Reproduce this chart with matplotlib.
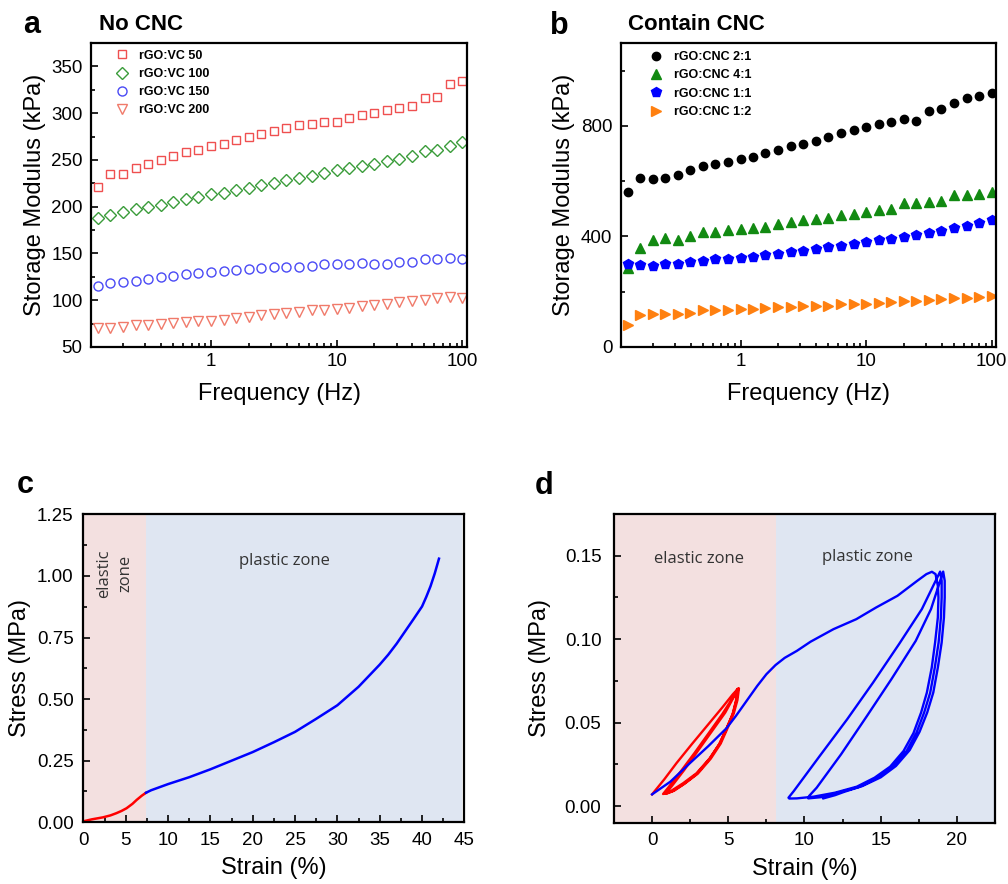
import matplotlib
matplotlib.use('Agg')
import matplotlib.pyplot as plt
from matplotlib.ticker import FixedLocator, MultipleLocator, LogLocator

plt.rcParams['font.family'] = ['Liberation Sans', 'DejaVu Sans']

# frequency sweep, 10 points per decade from 10^-0.9 to 100 Hz
freq = [0.126, 0.158, 0.2, 0.251, 0.316, 0.398, 0.501, 0.631, 0.794, 1.0,
        1.26, 1.58, 2.0, 2.51, 3.16, 3.98, 5.01, 6.31, 7.94, 10.0,
        12.6, 15.8, 20.0, 25.1, 31.6, 39.8, 50.1, 63.1, 79.4, 100.0]

# panel a: no CNC
vc50 = [221, 235, 235, 241, 246, 250, 254, 258, 261, 265, 267, 271, 275, 278, 281,
        284, 287, 288, 290, 291, 295, 298, 300, 303, 306, 308, 316, 317, 331, 334]
vc100 = [188, 191, 194, 197, 200, 202, 205, 208, 210, 213, 215, 218, 220, 223, 225,
         228, 231, 233, 236, 239, 241, 244, 246, 249, 251, 254, 260, 261, 265, 269]
vc150 = [115, 118, 119, 121, 123, 125, 126, 128, 129, 130, 131, 132, 133, 134, 135,
         136, 136, 137, 139, 139, 139, 140, 139, 139, 141, 141, 144, 144, 145, 144]
vc200 = [70, 70, 71, 73, 74, 75, 76, 77, 78, 78, 79, 81, 82, 84, 85,
         86, 87, 89, 90, 91, 92, 94, 95, 96, 98, 99, 100, 102, 103, 102]

# panel b: contain CNC
cnc21 = [561, 611, 608, 611, 623, 640, 655, 662, 670, 679, 688, 701, 713, 726, 735,
         747, 759, 773, 786, 795, 806, 813, 824, 817, 855, 862, 884, 901, 908, 919]
cnc41 = [285, 358, 388, 394, 388, 400, 415, 416, 422, 428, 429, 435, 445, 452, 461,
         463, 468, 478, 482, 490, 496, 501, 520, 520, 524, 529, 550, 550, 555, 561]
cnc11 = [302, 296, 292, 299, 301, 308, 312, 318, 319, 322, 325, 332, 337, 344, 349,
         355, 361, 367, 373, 379, 386, 390, 398, 405, 412, 419, 430, 439, 449, 459]
cnc12 = [78, 114, 120, 120, 118, 122, 135, 133, 135, 137, 138, 141, 143, 146, 147,
         150, 150, 154, 156, 157, 160, 162, 165, 165, 171, 173, 176, 177, 182, 184]

# panel c: tensile curve
c_el_strain = [0, 1, 2.3, 3.2, 3.9, 4.5, 5.1, 5.8, 6.3, 6.9, 7.4]
c_el_stress = [0.004, 0.012, 0.02, 0.028, 0.037, 0.046, 0.057, 0.075, 0.091, 0.108, 0.12]
c_pl_strain = [7.4, 8, 10, 12.5, 15, 17.5, 20, 22.5, 25, 27.5, 30, 32.5, 35, 36, 37,
               38, 39, 40, 40.5, 41, 41.5, 42]
c_pl_stress = [0.12, 0.13, 0.155, 0.183, 0.215, 0.25, 0.285, 0.325, 0.367, 0.42,
               0.475, 0.55, 0.64, 0.68, 0.725, 0.775, 0.825, 0.876, 0.915, 0.958,
               1.01, 1.07]

# panel d: cyclic loading, elastic zone (red) and plastic zone (blue)
d_el_strain = [0, 0.8, 1.6, 2.6, 3.6, 4.6, 5.3, 5.65,
               5.54, 5.32, 4.89, 4.45, 3.79, 2.92, 2.04, 1.27, 0.72,
               1.1, 1.9, 2.8, 3.7, 4.6, 5.3, 5.6,
               5.5, 5.28, 4.85, 4.4, 3.75, 2.9, 2.05, 1.35, 0.88,
               1.3, 2.1, 3.0, 3.9, 4.8, 5.4, 5.7,
               5.6, 5.36, 4.93, 4.5, 3.85, 3.0, 2.15, 1.45, 1.0]
d_el_stress = [0.007, 0.016, 0.0257, 0.037, 0.048, 0.059, 0.067, 0.0704,
               0.0638, 0.0558, 0.0465, 0.0377, 0.0287, 0.0197, 0.0137, 0.0092, 0.0072,
               0.0115, 0.021, 0.032, 0.0435, 0.055, 0.065, 0.0702,
               0.063, 0.055, 0.0458, 0.037, 0.028, 0.019, 0.013, 0.009, 0.0074,
               0.012, 0.0215, 0.033, 0.0445, 0.056, 0.066, 0.0705,
               0.0635, 0.0555, 0.0462, 0.0374, 0.0284, 0.0194, 0.0135, 0.0092, 0.0076]
d_pl_strain = [0, 1.2, 2.48, 3.7, 4.89, 5.5, 6.2, 6.9, 7.5, 8.1, 8.7, 9.5, 10.4,
               11.9, 13.4, 14.7, 16.1, 17.4, 18.0, 18.36, 18.6,
               18.75, 18.79, 18.75, 18.57, 18.35, 18.03, 17.65, 17.15, 16.5, 15.62,
               14.6, 13.43, 12.0, 10.58, 9.5, 9.0, 8.95,
               9.3, 11.0, 12.8, 14.5, 16.2, 17.7, 18.9,
               19.0, 19.0, 18.95, 18.8, 18.55, 18.25, 17.85, 17.35, 16.7, 15.8,
               14.8, 13.6, 12.2, 11.3, 10.25, 10.3,
               10.8, 12.4, 14.1, 15.7, 17.3, 18.3, 19.1,
               19.2, 19.2, 19.15, 19.0, 18.75, 18.45, 18.05, 17.55, 16.9, 16.0,
               15.0, 13.8, 12.6, 12.0, 11.24]
d_pl_stress = [0.007, 0.0146, 0.0257, 0.036, 0.0467, 0.054, 0.063, 0.072, 0.079, 0.0845,
               0.0888, 0.093, 0.0985, 0.106, 0.112, 0.119, 0.126, 0.135, 0.139, 0.1404,
               0.139,
               0.132, 0.125, 0.113, 0.098, 0.083, 0.068, 0.056, 0.0437, 0.033, 0.0236,
               0.017, 0.0116, 0.008, 0.0056, 0.0046, 0.0045, 0.005,
               0.009, 0.030, 0.052, 0.074, 0.097, 0.118, 0.1405,
               0.135, 0.125, 0.113, 0.098, 0.083, 0.068, 0.056, 0.044, 0.033, 0.0236,
               0.017, 0.0115, 0.008, 0.0055, 0.0046, 0.006,
               0.011, 0.031, 0.054, 0.076, 0.099, 0.118, 0.1405,
               0.135, 0.125, 0.113, 0.098, 0.083, 0.068, 0.056, 0.0445, 0.0335, 0.024,
               0.0172, 0.012, 0.0085, 0.0065, 0.0046]

PINK = '#f3e0e0'
BLUE_BG = '#dfe6f2'
zone_font = dict(family=['Open Sans', 'DejaVu Sans'], color='#333333', fontsize=12)
LABEL_SIZE = 17

fig = plt.figure(figsize=(10.08, 8.84), dpi=100)
ax_a = fig.add_axes([0.0903, 0.6075, 0.373, 0.3439])
ax_b = fig.add_axes([0.6158, 0.6075, 0.3726, 0.3439])
ax_c = fig.add_axes([0.0827, 0.0698, 0.378, 0.3484])
ax_d = fig.add_axes([0.6091, 0.0693, 0.378, 0.3492])


def style(ax, xpad=4.5, ypad=6):
    for s in ax.spines.values():
        s.set_linewidth(1.6)
    ax.tick_params(which='both', direction='in', labelsize=13.5, width=1.2)
    ax.tick_params(which='major', length=5)
    ax.tick_params(which='minor', length=3)
    ax.tick_params(axis='x', which='major', pad=xpad)
    ax.tick_params(axis='y', which='major', pad=ypad)


def log_x(ax):
    ax.set_xscale('log')
    ax.set_xlim(0.111, 109)
    ax.xaxis.set_major_locator(FixedLocator([1, 10, 100]))
    ax.set_xticklabels(['1', '10', '100'])
    ax.xaxis.set_minor_locator(LogLocator(base=10, subs=range(2, 10)))
    ax.set_xlabel('Frequency (Hz)', fontsize=LABEL_SIZE, labelpad=9)


# ---- a ----
ax_a.plot(freq, vc50, ls='none', marker='s', ms=6, mfc='none', mec='#ef5050', mew=1, label='rGO:VC 50')
ax_a.plot(freq, vc100, ls='none', marker='D', ms=6, mfc='none', mec='#3a9c3a', mew=1, label='rGO:VC 100')
ax_a.plot(freq, vc150, ls='none', marker='o', ms=6.5, mfc='none', mec='#4a4af5', mew=1, label='rGO:VC 150')
ax_a.plot(freq, vc200, ls='none', marker='v', ms=7, mfc='none', mec='#f07a6a', mew=1, label='rGO:VC 200')
log_x(ax_a)
ax_a.set_ylim(50, 375)
ax_a.yaxis.set_major_locator(MultipleLocator(50))
ax_a.yaxis.set_minor_locator(MultipleLocator(25))
ax_a.set_ylabel('Storage Modulus (kPa)', fontsize=LABEL_SIZE)
style(ax_a)
ax_a.legend(loc='upper left', bbox_to_anchor=(0.03, 1.015), frameon=False,
            prop={'size': 9, 'weight': 'bold'}, handlelength=1.4,
            handletextpad=0.6, labelspacing=0.5)

# ---- b ----
ax_b.plot(freq, cnc21, ls='none', marker='o', ms=6, color='black', label='rGO:CNC 2:1')
ax_b.plot(freq, cnc41, ls='none', marker='^', ms=7, color='#128a12', label='rGO:CNC 4:1')
ax_b.plot(freq, cnc11, ls='none', marker='p', ms=7, color='#0000ff', label='rGO:CNC 1:1')
ax_b.plot(freq, cnc12, ls='none', marker='>', ms=7, color='#ff8010', label='rGO:CNC 1:2')
log_x(ax_b)
ax_b.set_ylim(0, 1100)
ax_b.yaxis.set_major_locator(FixedLocator([0, 400, 800]))
ax_b.yaxis.set_minor_locator(FixedLocator([200, 600, 1000]))
ax_b.set_ylabel('Storage Modulus (kPa)', fontsize=LABEL_SIZE)
style(ax_b)
ax_b.legend(loc='upper left', bbox_to_anchor=(0.04, 1.01), frameon=False,
            prop={'size': 9, 'weight': 'bold'}, handlelength=1.4,
            handletextpad=0.8, labelspacing=0.5)

# ---- c ----
ax_c.axvspan(0, 7.4, color=PINK, lw=0, zorder=0)
ax_c.axvspan(7.4, 44.7, color=BLUE_BG, lw=0, zorder=0)
ax_c.plot(c_el_strain, c_el_stress, color='#ff0000', lw=1.8)
ax_c.plot(c_pl_strain, c_pl_stress, color='#0000ff', lw=1.8)
ax_c.set_xlim(0, 45)
ax_c.set_ylim(0, 1.25)
ax_c.xaxis.set_major_locator(MultipleLocator(5))
ax_c.xaxis.set_minor_locator(MultipleLocator(2.5))
ax_c.yaxis.set_major_locator(MultipleLocator(0.25))
ax_c.yaxis.set_minor_locator(MultipleLocator(0.125))
ax_c.yaxis.set_major_formatter(plt.FormatStrFormatter('%.2f'))
ax_c.set_xlabel('Strain (%)', fontsize=LABEL_SIZE, labelpad=6)
ax_c.set_ylabel('Stress (MPa)', fontsize=LABEL_SIZE)
style(ax_c, xpad=7, ypad=7)
ax_c.text(3.7, 1.01, 'elastic\nzone', rotation=90, ha='center', va='center',
          linespacing=1.45, **zone_font)
ax_c.text(23.7, 1.06, 'plastic zone', ha='center', va='center', **zone_font)

# ---- d ----
ax_d.axvspan(-2.5, 8.1, color=PINK, lw=0, zorder=0)
ax_d.axvspan(8.1, 22.5, color=BLUE_BG, lw=0, zorder=0)
ax_d.plot(d_el_strain, d_el_stress, color='#ff0000', lw=1.7)
ax_d.plot(d_pl_strain, d_pl_stress, color='#0000ff', lw=1.7)
ax_d.set_xlim(-2.5, 22.5)
ax_d.set_ylim(-0.01, 0.175)
ax_d.xaxis.set_major_locator(MultipleLocator(5))
ax_d.xaxis.set_minor_locator(MultipleLocator(2.5))
ax_d.yaxis.set_major_locator(MultipleLocator(0.05))
ax_d.yaxis.set_minor_locator(MultipleLocator(0.025))
ax_d.yaxis.set_major_formatter(plt.FormatStrFormatter('%.2f'))
ax_d.set_xlabel('Strain (%)', fontsize=LABEL_SIZE, labelpad=6)
ax_d.set_ylabel('Stress (MPa)', fontsize=LABEL_SIZE, labelpad=10)
style(ax_d, xpad=7, ypad=9)
ax_d.text(3.07, 0.148, 'elastic zone', ha='center', va='center', **zone_font)
ax_d.text(14.1, 0.149, 'plastic zone', ha='center', va='center', **zone_font)

# panel labels and titles
fig.text(32 / 1008, 1 - 25 / 884, 'a', fontsize=22, fontweight='bold', ha='center', va='center')
fig.text(99 / 1008, 1 - 25 / 884, 'No CNC', fontsize=16, fontweight='bold', ha='left', va='center')
fig.text(559 / 1008, 1 - 26 / 884, 'b', fontsize=22, fontweight='bold', ha='center', va='center')
fig.text(628 / 1008, 1 - 25 / 884, 'Contain CNC', fontsize=16, fontweight='bold', ha='left', va='center')
fig.text(25 / 1008, 1 - 485 / 884, 'c', fontsize=22, fontweight='bold', ha='center', va='center')
fig.text(544 / 1008, 1 - 486 / 884, 'd', fontsize=22, fontweight='bold', ha='center', va='center')

fig.savefig('out.png', dpi=100)
